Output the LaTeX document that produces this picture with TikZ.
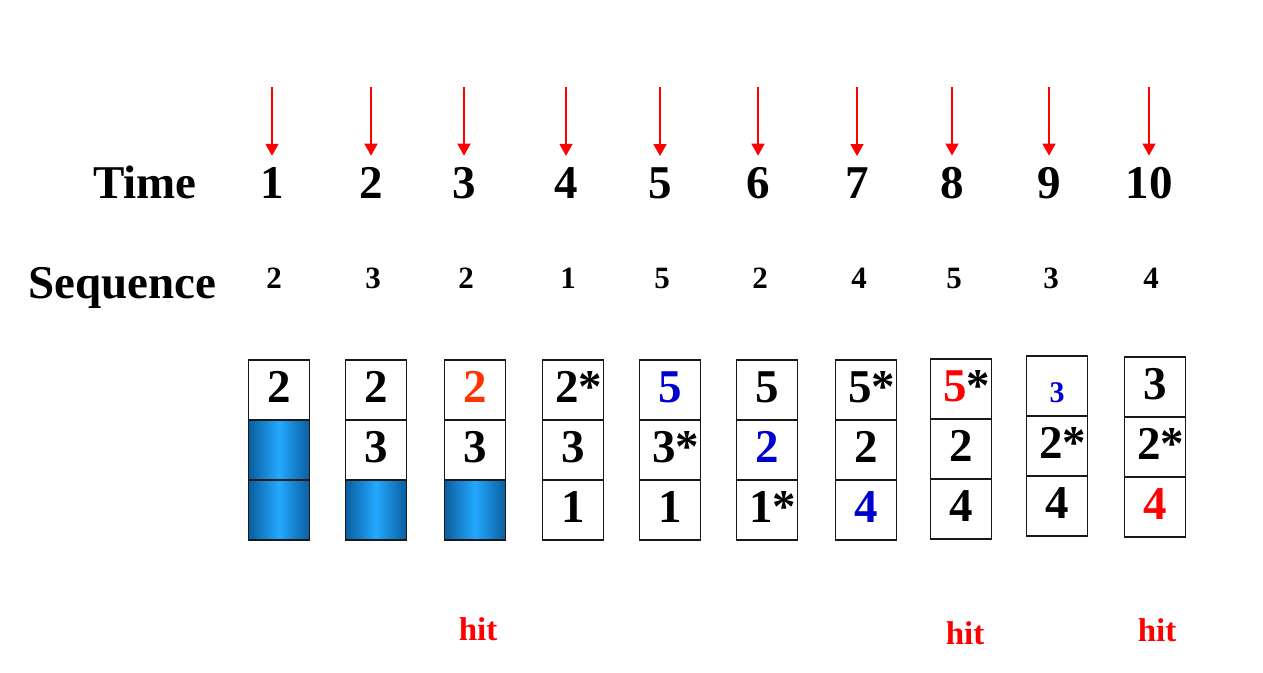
\documentclass[tikz,border=0pt]{standalone}
\usepackage{fontspec}
\setmainfont{Liberation Serif}
\usetikzlibrary{arrows.meta, positioning}
\definecolor{framedark}{HTML}{0B5E9E}
\definecolor{framelight}{HTML}{22A8FF}
\definecolor{newblue}{HTML}{0000CC}
\definecolor{hitred}{HTML}{FF0000}
\definecolor{oldred}{HTML}{FF3300}
\newcommand{\refd}[1]{\kern.25em#1*}
\tikzset{
  node distance=0pt,
  >={Triangle[length=12pt, width=13pt]},
  cell/.style={rectangle, draw=black!90, line width=1.2pt, outer sep=0pt, inner sep=0pt,
               minimum width=61pt, minimum height=60pt, text height=24pt, text depth=0pt,
               font=\fontsize{47}{50}\selectfont\bfseries},
  freecell/.style={cell, left color=framedark, right color=framedark, middle color=framelight},
  cellb/.style={cell, text=newblue},
  cellr/.style={cell, text=hitred},
  bigtxt/.style={anchor=base, inner sep=2pt, font=\fontsize{47}{50}\selectfont\bfseries},
  seqnum/.style={anchor=base, inner sep=2pt, font=\fontsize{31}{33}\selectfont\bfseries},
  hitlbl/.style={anchor=base, inner sep=2pt, text=hitred, font=\fontsize{33}{35}\selectfont\bfseries},
  pointer/.style={->, line width=1.6pt, draw=hitred, fill=hitred, shorten >=9pt},
}
\begin{document}
\begin{tikzpicture}[x=1pt, y=-1pt]
  \useasboundingbox (0,0) rectangle (1263,672);
  % row headings
  \node[bigtxt] (timelbl) at (145,198) {Time};
  \node[bigtxt] (seqlbl) at (122,298) {Sequence};
  % time steps, arrows and reference string
  \foreach \x/\t/\s [count=\i] in {272/1/2, 371/2/3, 464/3/2, 566/4/1, 660/5/5,
                                   758/6/2, 857/7/4, 952/8/5, 1049/9/3, 1149/10/4} {
    \coordinate (a\i) at (\x,87);
    \node[bigtxt] (t\i) at (\x,198) {\t};
    \node[seqnum] (s\i) at (\x+2,288) {\s};
    \draw[pointer] (a\i) -- (t\i);
  }
  % frames after each step
  \node[cell] (c1a) at (279,390) {2};
  \node[freecell, below=of c1a] (c1b) {};
  \node[freecell, below=of c1b] (c1c) {};

  \node[cell] (c2a) at (376,390) {2};
  \node[cell, below=of c2a] (c2b) {3};
  \node[freecell, below=of c2b] (c2c) {};

  \node[cell, text=oldred] (c3a) at (475,390) {2};
  \node[cell, below=of c3a] (c3b) {3};
  \node[freecell, below=of c3b] (c3c) {};

  \node[cell] (c4a) at (573,390) {\refd{2}};
  \node[cell, below=of c4a] (c4b) {3};
  \node[cell, below=of c4b] (c4c) {1};

  \node[cellb] (c5a) at (670,390) {5};
  \node[cell, below=of c5a] (c5b) {\refd{3}};
  \node[cell, below=of c5b] (c5c) {1};

  \node[cell] (c6a) at (767,390) {5};
  \node[cellb, below=of c6a] (c6b) {2};
  \node[cell, below=of c6b] (c6c) {\refd{1}};

  \node[cell] (c7a) at (866,390) {\refd{5}};
  \node[cell, below=of c7a] (c7b) {2};
  \node[cellb, below=of c7b] (c7c) {4};

  \node[cell] (c8a) at (961,389) {\kern.25em\textcolor{hitred}{5}*};
  \node[cell, below=of c8a] (c8b) {2};
  \node[cell, below=of c8b] (c8c) {4};

  \node[cellb, text height=32pt, font=\fontsize{30}{32}\selectfont\bfseries] (c9a) at (1057,386) {3};
  \node[cell, below=of c9a] (c9b) {\refd{2}};
  \node[cell, below=of c9b] (c9c) {4};

  \node[cell] (c10a) at (1155,387) {3};
  \node[cell, below=of c10a] (c10b) {\refd{2}};
  \node[cellr, below=of c10b] (c10c) {4};
  % hits
  \node[hitlbl] (hit3) at (478,640) {hit};
  \node[hitlbl] (hit8) at (965,644) {hit};
  \node[hitlbl] (hit10) at (1157,641) {hit};
\end{tikzpicture}
\end{document}
